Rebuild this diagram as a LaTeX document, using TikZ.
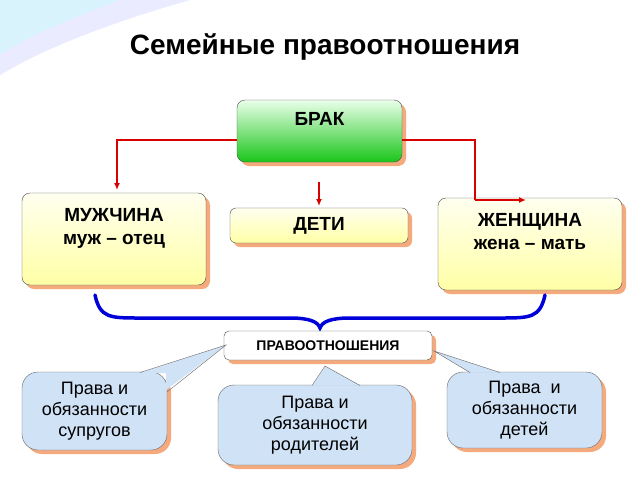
\documentclass[tikz,border=0pt]{standalone}
\usepackage{fontspec}
\setmainfont{Liberation Sans}
\usetikzlibrary{shadows,arrows.meta}
\definecolor{cblue}{RGB}{208,226,246}
\definecolor{shc}{RGB}{245,170,125}
\begin{document}
\begin{tikzpicture}[x=1pt,y=-1pt,
  shad/.style={general shadow={shadow xshift=4pt,shadow yshift=-4pt,fill=shc}},
  box/.style={draw=black!70,rounded corners=8pt,shad,font=\bfseries\fontsize{19}{23}\selectfont,align=center,inner sep=0pt},
  yel/.style={box,top color=yellow!6,bottom color=yellow!35},
  call/.style={draw=black!60,rounded corners=16pt,shad,fill=cblue,align=center,inner sep=0pt,font=\fontsize{18}{21}\selectfont},
  red/.style={draw=red!85!black,line width=1.6pt,-{Latex[length=7pt,width=6pt]}},
  lbl/.style={font=\bfseries\fontsize{19}{23}\selectfont,align=center},
]
\useasboundingbox (0,0) rectangle (640,480);
\fill[white] (0,0) rectangle (640,480);
\fill[blue!8] (0,0) -- (190,0) .. controls (120,20) and (50,45) .. (0,75) -- cycle;
\fill[cyan!15] (0,0) -- (120,0) .. controls (80,15) and (30,35) .. (0,55) -- cycle;
\node[font=\bfseries\fontsize{28}{32}\selectfont] (title) at (325,47) {Семейные правоотношения};
\node[box,top color=green!8,bottom color=green!75!black!90,minimum width=165pt,minimum height=62pt] (brak) at (319.5,131) {};
\node[lbl] (brakt) at (319.5,119) {БРАК};
\node[yel,minimum width=184pt,minimum height=92pt] (man) at (114,239) {};
\node[lbl] (mant) at (114,228) {МУЖЧИНА\\муж – отец};
\node[yel,minimum width=178pt,minimum height=35pt,rounded corners=6pt] (deti) at (319,225.5) {ДЕТИ};
\node[yel,minimum width=184pt,minimum height=92pt] (wom) at (530,244) {};
\node[lbl] (womt) at (530,232) {ЖЕНЩИНА\\жена – мать};
\draw[red] (brak.west |- 0,140) -| (117,190);
\draw[red,-] (brak.east |- 0,140) -| (475,200);
\draw[red] (475,200) -- (526,200);
\draw[red] (319,182) -- (319,206);
\draw[blue!85!black,line width=3.5pt,line cap=round] (95,295) .. controls (100,318) and (110,318) .. (140,318) -- (290,318) .. controls (310,318) and (318,322) .. (320,328) .. controls (322,322) and (330,318) .. (350,318) -- (500,318) .. controls (530,318) and (540,318) .. (545,295);
\node[box,fill=white,rounded corners=5pt,minimum width=208pt,minimum height=29pt,font=\bfseries\fontsize{14}{16}\selectfont] (prav) at (328,345.5) {ПРАВООТНОШЕНИЯ};
\coordinate (p1) at (226,345);
\coordinate (p2) at (325,366);
\coordinate (p3) at (434,351);
\node[call,minimum width=145pt,minimum height=78pt] (c1) at (94.5,411) {Права и\\обязанности\\супругов};
\node[call,minimum width=194pt,minimum height=80pt] (c2) at (315,425) {Права и\\обязанности\\родителей};
\node[call,minimum width=155pt,minimum height=76pt] (c3) at (524.5,410) {Права~ и\\обязанности\\детей};
\fill[cblue] (140,373) -- (p1) -- (166,390) -- (166,373) -- cycle;
\draw[black!60] (140,372.5) -- (p1) -- (167,392);
\fill[cblue] (312,385.5) -- (p2) -- (360,385.5) -- cycle;
\draw[black!60] (312,385.5) -- (p2) -- (360,385.5);
\fill[cblue] (470,372.5) -- (p3) -- (500,372.5) -- cycle;
\draw[black!60] (470,372.5) -- (p3) -- (500,372.5);
\end{tikzpicture}
\end{document}
